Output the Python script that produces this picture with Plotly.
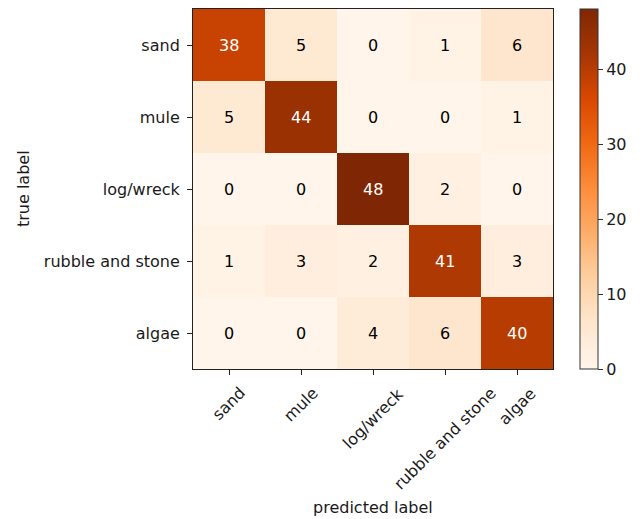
import plotly.graph_objects as go

labels = ["sand", "mule", "log/wreck", "rubble and stone", "algae"]
matrix = [
    [38, 5, 0, 1, 6],
    [5, 44, 0, 0, 1],
    [0, 0, 48, 2, 0],
    [1, 3, 2, 41, 3],
    [0, 0, 4, 6, 40],
]
cbar_ticks = [0, 10, 20, 30, 40]
x_title = "predicted label"
y_title = "true label"

oranges = ["#fff5eb", "#fee6ce", "#fdd0a2", "#fdae6b", "#fd8d3c",
           "#f16913", "#d94801", "#a63603", "#7f2704"]
cscale = [[i / (len(oranges) - 1), c] for i, c in enumerate(oranges)]

FONT = "DejaVu Sans"
FS = 16
TXT = "#1a1a1a"

vmax = max(max(r) for r in matrix)
vmin = min(min(r) for r in matrix)

fig = go.Figure(go.Heatmap(
    z=matrix, x=labels, y=labels, colorscale=cscale, zmin=vmin, zmax=vmax,
    xgap=0, ygap=0, hoverinfo="skip",
    colorbar=dict(
        x=1.075, xanchor="left", xref="paper", thickness=18, len=1, lenmode="fraction",
        y=0.5, yanchor="middle", ypad=0, xpad=0, outlinewidth=1, outlinecolor="#333",
        tickvals=cbar_ticks, ticks="outside", ticklen=5, tickcolor="#333",
        tickfont=dict(family=FONT, size=FS, color=TXT),
    ),
))

thresh = (vmax + vmin) / 2
for i, row in enumerate(matrix):
    for j, v in enumerate(row):
        fig.add_annotation(x=labels[j], y=labels[i], text=str(v), showarrow=False,
                           font=dict(family=FONT, size=FS,
                                     color="white" if v > thresh else "black"))

# rotated x tick labels, centred under their ticks (matplotlib style)
for lab in labels:
    fig.add_annotation(x=lab, xref="x", y=0, yref="paper", text=lab, showarrow=False,
                       textangle=-45, xanchor="center", yanchor="top", yshift=-12,
                       font=dict(family=FONT, size=FS, color=TXT))

fig.add_annotation(x=0.5, xref="paper", y=0, yref="paper", text=x_title, showarrow=False,
                   xanchor="center", yanchor="middle", yshift=-138,
                   font=dict(family=FONT, size=FS, color=TXT))
fig.add_annotation(x=0, xref="paper", y=0.5, yref="paper", text=y_title, showarrow=False,
                   textangle=-90, xanchor="center", yanchor="middle", xshift=-170,
                   font=dict(family=FONT, size=FS, color=TXT))

axis_common = dict(showline=True, mirror=True, linecolor="#222", linewidth=1,
                   ticks="outside", ticklen=5, tickcolor="#222", automargin=False,
                   tickfont=dict(family=FONT, size=FS, color=TXT),
                   showgrid=False, zeroline=False)

fig.update_xaxes(**axis_common, showticklabels=False)
fig.update_yaxes(**axis_common, autorange="reversed", ticklabelstandoff=4)

fig.update_layout(
    width=634, height=511,
    margin=dict(l=185, r=89, t=1, b=150),
    plot_bgcolor="white", paper_bgcolor="white",
    font=dict(family=FONT, size=FS, color=TXT),
)

fig.write_html("out.html")
